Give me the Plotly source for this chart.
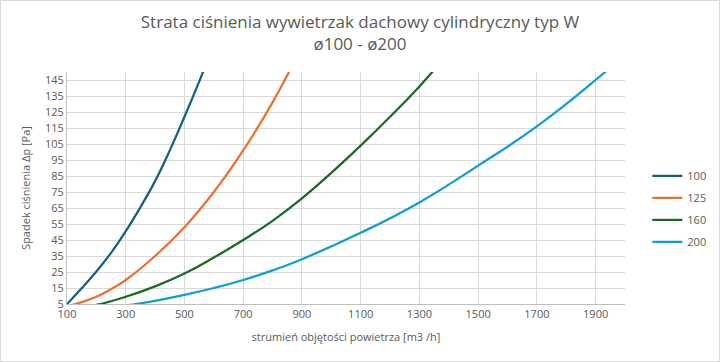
import plotly.graph_objects as go

# Data
x_100 = [100, 150, 200, 250, 300, 350, 400, 450, 500, 550, 600]
y_100 = [5, 14.8, 25.3, 37, 50.5, 65.5, 81.8, 101, 122, 144, 167]

x_125 = [100, 150, 200, 250, 300, 400, 500, 600, 700, 800, 900]
y_125 = [3.5, 6.2, 9.5, 14.3, 20, 35, 53, 75, 101, 131, 166]

x_160 = [100, 200, 300, 400, 500, 600, 700, 800, 900, 1000, 1100, 1200, 1300, 1400]
y_160 = [1.2, 4.4, 9.5, 16, 24, 34, 45, 57, 71, 87, 104, 122, 141, 162]

x_200 = [100, 200, 300, 400, 500, 600, 700, 800, 900, 1100, 1300, 1500, 1700, 1900, 2000]
y_200 = [0.5, 1.8, 4, 7, 10.7, 15, 20, 26, 33, 49.5, 68.5, 91.5, 116, 145, 161]

series_names = ["100", "125", "160", "200"]
colors = ["#156082", "#E97132", "#196B24", "#0F9ED5"]

x_ticks = [100, 300, 500, 700, 900, 1100, 1300, 1500, 1700, 1900]
y_ticks = [5, 15, 25, 35, 45, 55, 65, 75, 85, 95, 105, 115, 125, 135, 145]

fig = go.Figure()
for name, xs, ys, c in zip(series_names, [x_100, x_125, x_160, x_200],
                           [y_100, y_125, y_160, y_200], colors):
    fig.add_trace(go.Scatter(x=xs, y=ys, name=name, mode="lines", legendgroup=name,
                             line=dict(color=c, width=2.25, shape="spline", smoothing=1.3)))

font_family = "Open Sans, Liberation Sans, sans-serif"
grey = "#595959"

L, R, T, B = 67, 95, 72, 58
W, H = 720, 362
pw, ph = W - L - R, H - T - B

fig.update_layout(
    width=W, height=H,
    margin=dict(l=L, r=R, t=T, b=B, autoexpand=False),
    paper_bgcolor="white", plot_bgcolor="white",
    font=dict(family=font_family, color=grey, size=11),
    title=dict(text="Strata ciśnienia wywietrzak dachowy cylindryczny typ W<br>ø100 - ø200",
               x=0.5, xanchor="center", y=0.922, yanchor="top",
               font=dict(size=17, color=grey, family=font_family)),
    xaxis=dict(range=[100, 2000], tickmode="array", tickvals=x_ticks,
               ticktext=[str(v) for v in x_ticks],
               showgrid=True, gridcolor="#D9D9D9", gridwidth=1,
               showline=True, linecolor="#BFBFBF", linewidth=1,
               ticks="", zeroline=False, automargin=False,
               title=dict(text="strumień objętości powietrza [m3 /h]", font=dict(size=11, color=grey), standoff=13)),
    yaxis=dict(range=[5, 150], tickmode="array", tickvals=y_ticks,
               ticktext=[str(v) for v in y_ticks],
               showgrid=True, gridcolor="#D9D9D9", gridwidth=1,
               showline=True, linecolor="#BFBFBF", linewidth=1,
               ticks="", zeroline=False, automargin=False,
               title=dict(text="Spadek ciśnienia Δp [Pa]", font=dict(size=11, color=grey), standoff=12)),
    legend=dict(x=1.04, y=0.41, xanchor="left", yanchor="middle",
                font=dict(size=11, color=grey), tracegroupgap=3, itemwidth=30,
                bgcolor="rgba(0,0,0,0)"),
    showlegend=True,
)

# chart-area border
fig.add_shape(type="rect", xref="paper", yref="paper",
              x0=-(L - 0.5) / pw, x1=1 + (R - 0.5) / pw,
              y0=-(B - 0.5) / ph, y1=1 + (T - 0.5) / ph,
              line=dict(color="#D9D9D9", width=1), layer="below")

fig.write_html("out.html", config={"displayModeBar": False},
               post_script="document.body.style.margin='0';document.body.style.overflow='hidden';")
